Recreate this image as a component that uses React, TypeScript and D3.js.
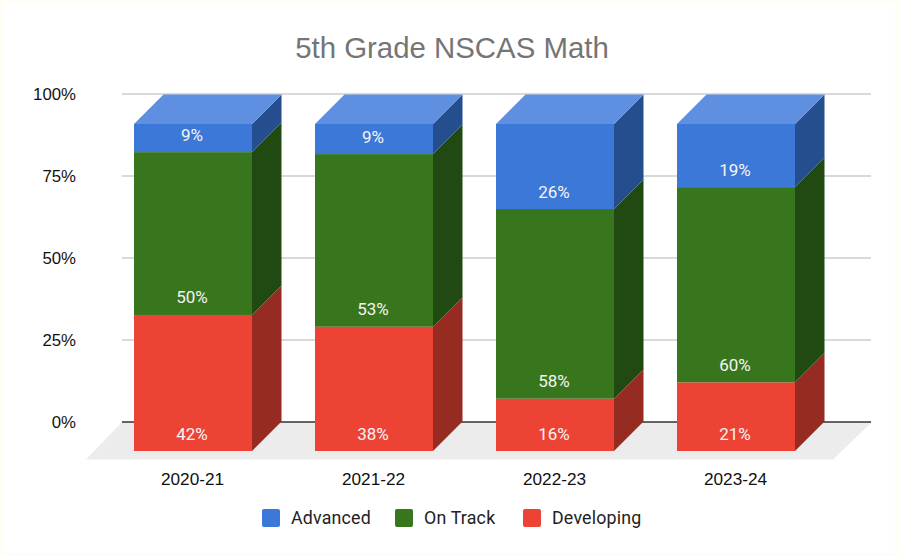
import React from "react";
import * as d3 from "d3";

const categories = ["2020-21", "2021-22", "2022-23", "2023-24"];
const developing = [41.6, 38, 16, 21];
const onTrack = [49.8, 52.8, 58, 59.7];
const advanced = [8.6, 9.2, 26, 19.3];
const seriesNames = ["Developing", "On Track", "Advanced"];
const legendNames = ["Advanced", "On Track", "Developing"];
const yTicks = [0, 25, 50, 75, 100];

const front: Record<string, string> = { Developing: "#ed4335", "On Track": "#38761d", Advanced: "#3c78d8" };
const side: Record<string, string> = { Developing: "#962b22", "On Track": "#204a12", Advanced: "#244e8e" };
const topFace = "#5f8fe0";

const W = 899, H = 556;
const depth = 29.5;
const ARIAL = "'Liberation Sans', Arial, sans-serif";
const ROBOTO = "Roboto, sans-serif";

const rows = categories.map((c, i) => ({
  cat: c,
  Developing: developing[i],
  "On Track": onTrack[i],
  Advanced: advanced[i],
}));

export default function App() {
  const x = d3.scaleBand<string>().domain(categories).range([102.5, 826.5]);
  const y = d3.scaleLinear().domain([0, 100]).range([451, 124]);
  const yBack = (v: number) => y(v) - depth;
  const axisY = d3.scaleLinear().domain([0, 100]).range([422, 94]);
  const stack = d3.stack<any>().keys(seriesNames);
  const layers = stack(rows);
  const bw = 118;
  const barX = (c: string) => (x(c) as number) + (x.bandwidth() - bw) / 2;

  return (
    <svg
      width={W}
      height={H}
      viewBox={`0 0 ${W} ${H}`}
      style={{ position: "absolute", left: 0, top: 0, display: "block" }}
    >
      <rect width={W} height={H} fill="#fffdf6" />
      <rect x={4} y={3} width={W - 8} height={H - 6} fill="#ffffff" />
      <text x={452} y={58} textAnchor="middle" fontFamily={ARIAL} fontSize={29.4} fill="#757575">
        5th Grade NSCAS Math
      </text>

      <polygon points="122,422 872,422 833,459.5 86,459.5" fill="#ececec" />
      {yTicks.map((t) => (
        <g key={t}>
          <line
            x1={122}
            x2={871}
            y1={axisY(t)}
            y2={axisY(t)}
            stroke={t === 0 ? "#333333" : "#cccccc"}
            strokeWidth={1.3}
          />
          <text x={76} y={axisY(t) + 6} textAnchor="end" fontFamily={ARIAL} fontSize={16.8} fill="#111111">
            {t}%
          </text>
        </g>
      ))}

      {layers.map((layer) => (
        <g key={layer.key}>
          {layer.map((d: any) => {
            const c = d.data.cat as string;
            const x0 = barX(c);
            const x1 = x0 + bw;
            const yb = y(d[0]);
            const yt = y(d[1]);
            return (
              <g key={c}>
                <rect x={x0} y={yt} width={bw} height={yb - yt} fill={front[layer.key]} />
                <polygon
                  points={`${x1},${yb} ${x1 + depth},${yBack(d[0])} ${x1 + depth},${yBack(d[1])} ${x1},${yt}`}
                  fill={side[layer.key]}
                />
                {layer.key === "Advanced" && (
                  <polygon
                    points={`${x0},${yt} ${x1},${yt} ${x1 + depth},${yt - depth} ${x0 + depth},${yt - depth}`}
                    fill={topFace}
                  />
                )}
              </g>
            );
          })}
        </g>
      ))}

      {layers.map((layer) =>
        layer.map((d: any) => {
          const c = d.data.cat as string;
          return (
            <text
              key={layer.key + c}
              x={barX(c) + bw / 2 - 1}
              y={y(d[0]) - 11.5}
              textAnchor="middle"
              fontFamily={ROBOTO}
              fontSize={17}
              fill="#f4f4f4"
            >
              {Math.round(d[1] - d[0])}%
            </text>
          );
        })
      )}

      {categories.map((c) => (
        <text key={c} x={barX(c) + bw / 2 - 0.5} y={485} textAnchor="middle" fontFamily={ARIAL} fontSize={17.2} fill="#111111">
          {c}
        </text>
      ))}

      {legendNames.map((n, i) => {
        const lx = [262, 395, 523][i];
        return (
          <g key={n}>
            <rect x={lx} y={509} width={18} height={18} rx={2} fill={front[n]} />
            <text x={lx + 29} y={523.5} fontFamily={ROBOTO} fontSize={17.8} letterSpacing={0.2} fill="#222222">
              {n}
            </text>
          </g>
        );
      })}
    </svg>
  );
}
